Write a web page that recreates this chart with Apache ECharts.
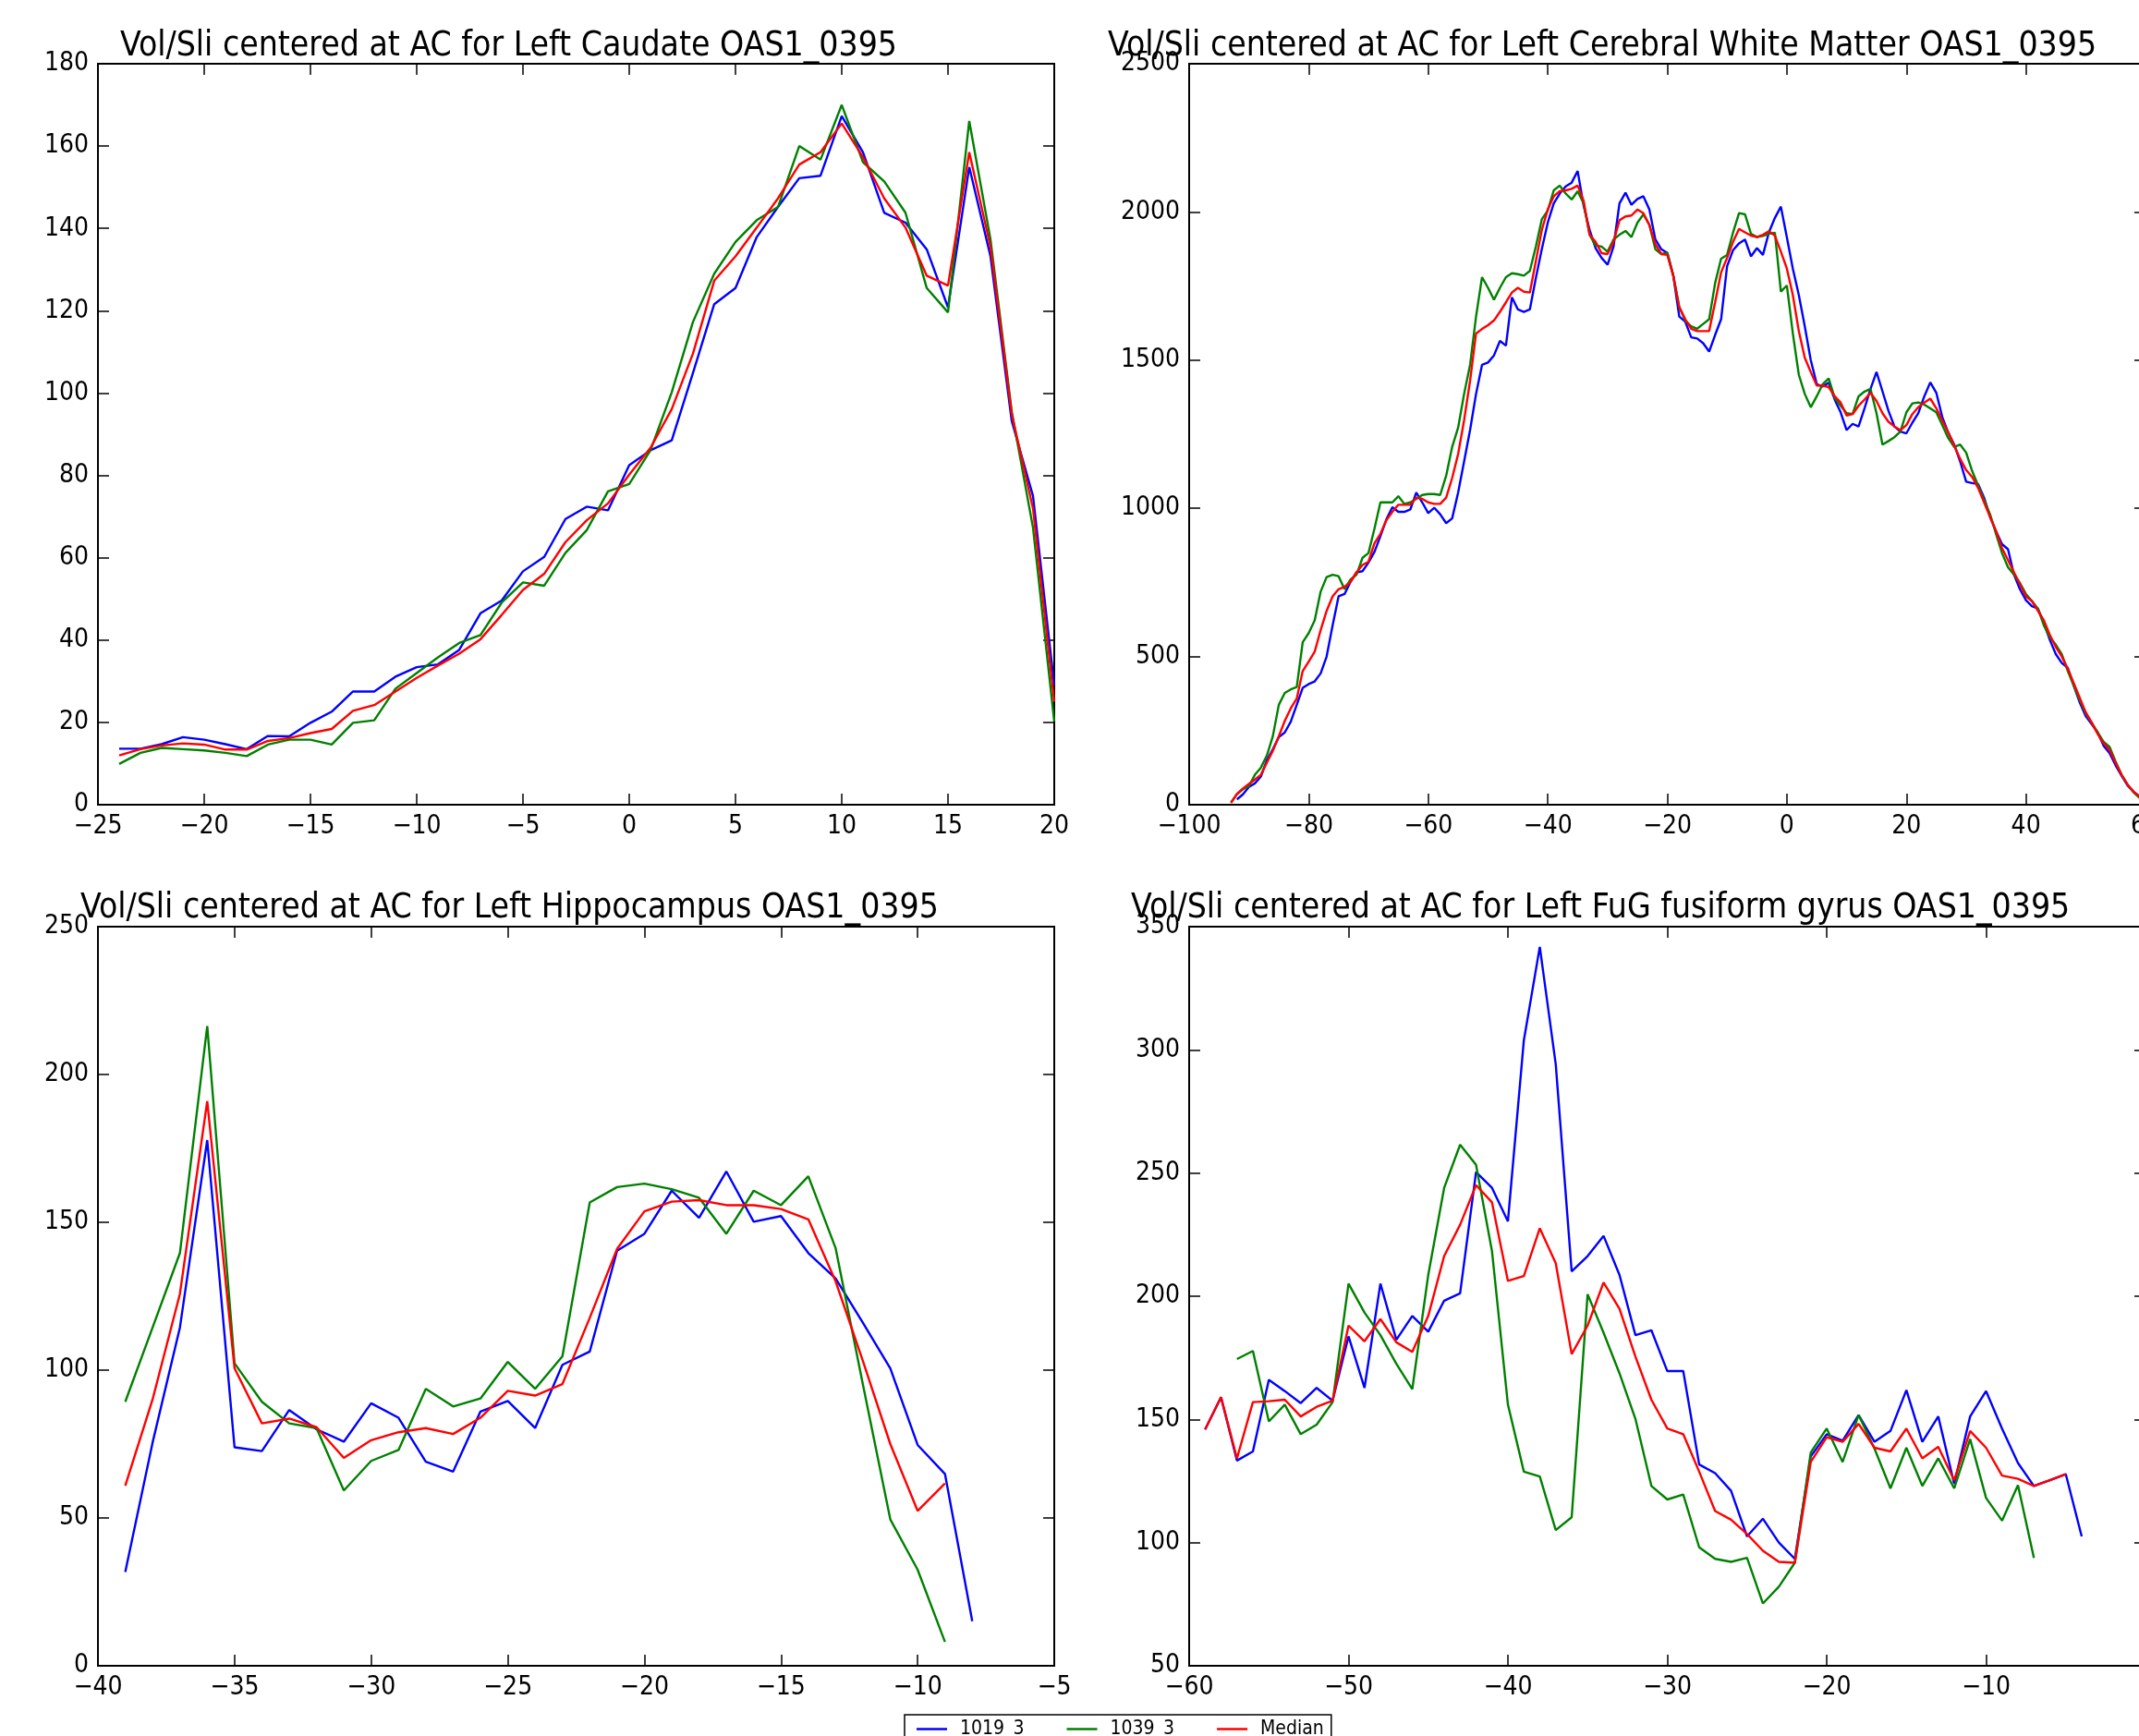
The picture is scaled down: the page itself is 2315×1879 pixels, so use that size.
<!DOCTYPE html>
<html>
<head>
<meta charset="utf-8">
<script src="https://cdn.jsdelivr.net/npm/echarts@6/dist/echarts.min.js"></script>
<style>
  html, body { margin: 0; padding: 0; background: #fff; overflow: hidden; }
  #chart { width: 2315px; height: 1879px; }
</style>
</head>
<body>
<div id="chart"></div>
<script>
// Slice positions (mm from AC) and volume-per-slice values for each structure.

// Left Caudate
const caudateSlices = [-24,-23,-22,-21,-20,-19,-18,-17,-16,-15,-14,-13,-12,-11,-10,-9,-8,-7,-6,-5,-4,-3,-2,-1,0,1,2,3,4,5,6,7,8,9,10,11,12,13,14,15,16,17,18,19,20];
const caudate1019 = [13.6,13.6,14.7,16.4,15.8,14.7,13.5,16.7,16.6,19.9,22.6,27.5,27.5,31.1,33.4,34.1,37.6,46.5,49.6,56.7,60.2,69.4,72.4,71.5,82.5,86.1,88.5,104.9,121.6,125.5,137.9,145.2,152.2,152.8,167.3,158.5,143.8,141.4,134.9,120.8,154.9,133.2,93.2,75,29];
const caudate1039 = [9.9,12.6,13.8,13.5,13.2,12.6,11.8,14.6,15.8,15.8,14.6,19.9,20.5,28.2,32,35.8,39.3,41.2,49.1,54,53.2,61.2,66.7,76.1,77.9,86.1,100.2,117.3,129,136.7,142,145.2,160,156.7,170,156.1,151.4,143.8,125.5,119.6,166.1,137.3,95.5,67.3,20.2];
const caudateMedian = [12,13.5,14.4,14.9,14.6,13.4,13.4,15.5,16.2,17.4,18.4,22.8,24.2,27.5,30.8,33.8,36.7,40.2,46.1,52.2,56.1,63.8,69.1,73.2,80.2,86.7,96.1,109.6,127.3,133.2,140.2,147.3,155.5,158.5,165.5,157.3,147.3,140.2,128.5,126.1,158.5,135.5,94.9,72,25];

// Left Cerebral White Matter
const wmSlices = [-93,-92,-91,-90,-89,-88,-87,-86,-85,-84,-83,-82,-81,-80,-79,-78,-77,-76,-75,-74,-73,-72,-71,-70,-69,-68,-67,-66,-65,-64,-63,-62,-61,-60,-59,-58,-57,-56,-55,-54,-53,-52,-51,-50,-49,-48,-47,-46,-45,-44,-43,-42,-41,-40,-39,-38,-37,-36,-35,-34,-33,-32,-31,-30,-29,-28,-27,-26,-25,-24,-23,-22,-21,-20,-19,-18,-17,-16,-15,-14,-13,-12,-11,-10,-9,-8,-7,-6,-5,-4,-3,-2,-1,0,1,2,3,4,5,6,7,8,9,10,11,12,13,14,15,16,17,18,19,20,21,22,23,24,25,26,27,28,29,30,31,32,33,34,35,36,37,38,39,40,41,42,43,44,45,46,47,48,49,50,51,52,53,54,55,56,57,58,59];
const wm1019Slices = wmSlices.slice(1);
const wm1019 = [18,35,60,72,95,150,187,228,244,280,
  337,394,407,416,443,500,605,703,711,752,
  784,788,817,853,906,963,1004,988,988,996,
  1053,1020,984,1002,980,950,966,1053,1158,1264,
  1386,1484,1492,1516,1565,1549,1712,1671,1663,1671,
  1777,1874,1964,2029,2062,2086,2099,2138,2021,1939,
  1878,1845,1822,1883,2029,2065,2024,2044,2053,2008,
  1907,1874,1862,1785,1647,1630,1577,1573,1557,1529,
  1585,1638,1817,1871,1894,1907,1850,1878,1855,1931,
  1980,2018,1915,1809,1720,1614,1500,1419,1411,1424,
  1367,1324,1264,1285,1276,1338,1403,1460,1395,1329,
  1276,1259,1253,1289,1321,1378,1425,1390,1308,1256,
  1215,1158,1090,1085,1082,1036,971,923,879,862,
  776,727,690,670,662,613,556,508,478,462,
  402,345,299,272,244,199,174,133,98,65,
  44,28];
const wm1039 = [8,36,52,63,101,125,166,231,337,377,
  389,397,548,579,622,719,768,776,771,727,
  760,776,833,849,931,1020,1020,1020,1041,1015,
  1020,1032,1045,1048,1048,1045,1110,1207,1272,1386,
  1484,1647,1780,1744,1704,1744,1780,1793,1790,1785,
  1801,1883,1975,2005,2073,2089,2062,2042,2070,2029,
  1923,1887,1883,1866,1907,1923,1936,1915,1964,1992,
  1956,1874,1858,1862,1785,1679,1634,1614,1606,1622,
  1638,1760,1842,1855,1931,1996,1992,1926,1915,1919,
  1926,1930,1731,1752,1590,1451,1386,1341,1378,1419,
  1438,1373,1346,1321,1318,1378,1394,1403,1321,1215,
  1227,1240,1259,1324,1354,1357,1350,1337,1324,1281,
  1237,1207,1215,1188,1126,1077,1028,980,914,849,
  801,776,748,711,687,662,605,565,540,508,
  451,402,353,309,277,244,212,195,146,101,
  68,42,23];
const wmMedian = [6,36,55,70,85,101,142,182,231,283,
  325,358,451,483,516,589,654,703,727,735,
  752,784,809,820,882,914,960,988,1012,1012,
  1012,1036,1032,1020,1015,1015,1036,1102,1183,1297,
  1430,1590,1605,1618,1634,1663,1695,1728,1744,1731,
  1728,1834,1939,2008,2053,2070,2073,2078,2089,2037,
  1923,1899,1861,1858,1899,1972,1985,1988,2008,1996,
  1956,1891,1858,1855,1785,1679,1638,1606,1598,1598,
  1598,1695,1796,1845,1899,1943,1931,1920,1915,1923,
  1935,1920,1866,1809,1720,1598,1508,1460,1414,1414,
  1409,1378,1357,1313,1318,1346,1367,1390,1362,1321,
  1292,1276,1264,1281,1318,1341,1357,1370,1338,1297,
  1256,1211,1167,1129,1106,1069,1020,971,923,866,
  825,784,744,703,687,654,622,573,532,500,
  459,410,361,312,277,239,207,185,142,101,
  68,44,28];

// Left Hippocampus
const hippoSlices = [-39,-38,-37,-36,-35,-34,-33,-32,-31,-30,-29,-28,-27,-26,-25,-24,-23,-22,-21,-20,-19,-18,-17,-16,-15,-14,-13,-12,-11,-10,-9,-8];
const hippoShortSlices = hippoSlices.slice(0, 31);
const hippo1019 = [31.7,75.5,114.4,177.8,73.9,72.6,86.5,80,75.8,88.8,83.9,69,65.7,86,89.6,80.4,101.8,106.3,140.4,146.1,160.7,151.5,167.2,150.2,152.1,139.6,131,116,100.6,74.7,64.9,15.1];
const hippo1039 = [89.3,114.4,139.6,216.4,102.3,89.3,82,80.4,59.3,69.3,73,93.7,87.7,90.4,102.8,93.7,104.7,156.7,161.9,163.1,161.2,158.3,146.1,160.7,155.8,165.6,141.2,95,49.5,32.5,8.1];
const hippoMedian = [60.9,90.1,125.8,191,100.6,82,83.6,80.7,70.3,76.3,79,80.4,78.4,83.9,93,91.4,95.3,117.7,141,153.7,157,157.5,155.8,155.8,154.5,151,130,103,75,52.4,61.7];

// Left FuG fusiform gyrus
const fugSlices = [-59,-58,-57,-56,-55,-54,-53,-52,-51,-50,-49,-48,-47,-46,-45,-44,-43,-42,-41,-40,-39,-38,-37,-36,-35,-34,-33,-32,-31,-30,-29,-28,-27,-26,-25,-24,-23,-22,-21,-20,-19,-18,-17,-16,-15,-14,-13,-12,-11,-10,-9,-8,-7,-6,-5,-4];
const fug1039Slices = fugSlices.slice(2, 53);
const fugMedianSlices = fugSlices.slice(0, 55);
const fug1019 = [145.9,159,133.3,137,166.1,161.5,156.6,162.8,157.6,183.7,162.8,205.1,182.3,192,185.6,198.2,201.2,250.4,244,230.4,303.9,341.8,294.2,210.1,216.3,224.5,208.6,184.2,186.2,169.6,169.6,131.7,128.2,121,102.5,109.7,100,93.4,135,144,141.4,151.8,140.9,145.3,161.9,140.9,151.2,123.9,151.2,161.5,146.3,132.3,123,125.3,127.8,102.5];
const fug1039 = [174.5,177.8,149.2,156,144,147.9,157,205.1,193.4,184.2,172.6,162.3,208.6,244,261.5,253.3,218.3,156,128.8,126.8,105.1,110.3,200.8,185.2,168.7,150.2,123,117.5,119.5,98.1,93.4,92.2,93.8,75.3,82.1,91.8,136.6,146.3,132.7,151.8,138.1,122,138.5,123,134.2,122,142,118.1,108.9,123.3,93.8];
const fugMedian = [145.9,159,134.2,157,157.4,158,151.2,155.1,157.6,188.1,181.7,190.7,181.3,177.4,192,216.3,229,245.1,238.1,206.2,208.2,227.6,213.4,176.5,188.1,205.6,194.9,175.5,158,146.3,144,128.8,112.8,109.3,103.5,96.7,92.2,91.8,132.7,142.8,140.9,148.2,138.5,137,146.3,134.2,138.9,125.3,145.3,138.5,127.2,125.9,123,125.3,127.8];

const seriesNames = ['1019_3', '1039_3', 'Median'];
const seriesColors = ['#0000ff', '#008000', '#ff0000'];

const panels = [
  { title: 'Vol/Sli centered at AC for Left Caudate OAS1_0395',
    grid: { left: 106, top: 69, width: 1035, height: 802 }, titlePos: [130, 32],
    x: [-25, 20, 5], y: [0, 180, 20],
    lines: [[caudateSlices, caudate1019], [caudateSlices, caudate1039], [caudateSlices, caudateMedian]] },
  { title: 'Vol/Sli centered at AC for Left Cerebral White Matter OAS1_0395',
    grid: { left: 1287, top: 69, width: 1035, height: 802 }, titlePos: [1199, 32],
    x: [-100, 60, 20], y: [0, 2500, 500],
    lines: [[wm1019Slices, wm1019], [wmSlices, wm1039], [wmSlices, wmMedian]] },
  { title: 'Vol/Sli centered at AC for Left Hippocampus OAS1_0395',
    grid: { left: 106, top: 1003, width: 1035, height: 800 }, titlePos: [87, 965],
    x: [-40, -5, 5], y: [0, 250, 50],
    lines: [[hippoSlices, hippo1019], [hippoShortSlices, hippo1039], [hippoShortSlices, hippoMedian]] },
  { title: 'Vol/Sli centered at AC for Left FuG fusiform gyrus OAS1_0395',
    grid: { left: 1287, top: 1003, width: 1035, height: 800 }, titlePos: [1224, 965],
    x: [-60, 0, 10], y: [50, 350, 50],
    lines: [[fugSlices, fug1019], [fug1039Slices, fug1039], [fugMedianSlices, fugMedian]] }
];

const FONT = '"DejaVu Sans Condensed", "DejaVu Sans", sans-serif';
const minusFmt = v => (v < 0 ? '\u2212' + Math.abs(v) : String(v));

const grids = [], xAxes = [], yAxes = [], series = [], titles = [];
panels.forEach((p, i) => {
  grids.push(Object.assign({ show: true, borderColor: '#000', borderWidth: 2, backgroundColor: '#fff',
    containLabel: false, outerBoundsMode: 'none' }, p.grid));
  titles.push({ text: p.title, left: p.titlePos[0], top: p.titlePos[1], padding: 0,
    textStyle: { fontFamily: FONT, fontSize: 37, fontWeight: 'normal', color: '#000' } });
  const tick = { show: true, inside: true, length: 12, lineStyle: { color: '#000', width: 1.5 } };
  ['bottom', 'top'].forEach(pos => xAxes.push({
    type: 'value', gridIndex: i, position: pos, min: p.x[0], max: p.x[1], interval: p.x[2],
    axisLine: { show: false, onZero: false }, splitLine: { show: false }, axisTick: tick,
    axisLabel: { show: pos === 'bottom', formatter: minusFmt, fontFamily: FONT, fontSize: 28, color: '#000', margin: 10, hideOverlap: false }
  }));
  ['left', 'right'].forEach(pos => yAxes.push({
    type: 'value', gridIndex: i, position: pos, min: p.y[0], max: p.y[1], interval: p.y[2],
    axisLine: { show: false, onZero: false }, splitLine: { show: false }, axisTick: tick,
    axisLabel: { show: pos === 'left', formatter: minusFmt, fontFamily: FONT, fontSize: 28, color: '#000', margin: 10, hideOverlap: false }
  }));
  p.lines.forEach(([xs, ys], k) => series.push({
    type: 'line', name: seriesNames[k], xAxisIndex: 2 * i, yAxisIndex: 2 * i,
    data: xs.map((x, j) => [x, ys[j]]), showSymbol: false, symbol: 'none',
    lineStyle: { color: seriesColors[k], width: 2.4 }, itemStyle: { color: seriesColors[k] },
    clip: true, z: 2 + k
  }));
});

const chart = echarts.init(document.getElementById('chart'), null, { renderer: 'canvas' });
chart.setOption({
  animation: false,
  backgroundColor: '#fff',
  title: titles,
  grid: grids,
  xAxis: xAxes,
  yAxis: yAxes,
  legend: {
    data: seriesNames, left: 979, top: 1856, orient: 'horizontal',
    padding: [5, 8, 5, 13], itemGap: 46, itemWidth: 33, itemHeight: 2.5, icon: 'rect',
    borderColor: '#000', borderWidth: 1.5, backgroundColor: '#fff',
    textStyle: { fontFamily: FONT, fontSize: 21, color: '#000', padding: [0, 0, 0, 9] }
  },
  series: series
});
</script>
</body>
</html>
